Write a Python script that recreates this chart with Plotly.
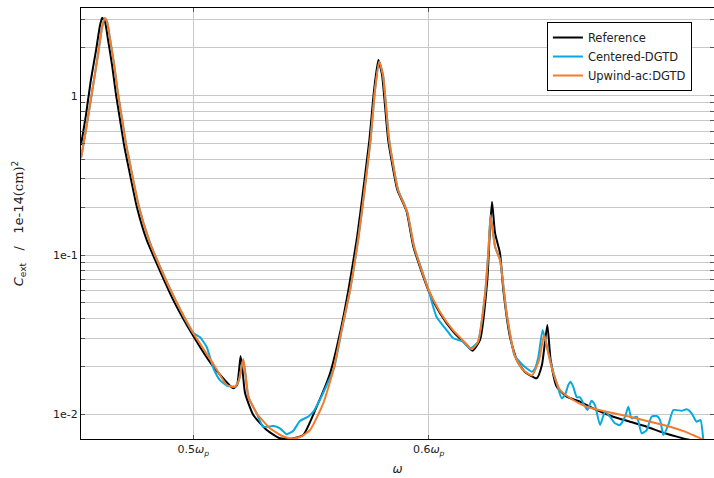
import plotly.graph_objects as go

# ---------------- data ----------------
ref_x = [0.4523, 0.4544, 0.4565, 0.4587, 0.4604, 0.4613, 0.4625, 0.4638, 0.4655, 0.4672,
         0.4689, 0.4706, 0.4723, 0.4760, 0.4802, 0.4829, 0.4915, 0.5000, 0.5085, 0.5170,
         0.5186, 0.5201, 0.5211, 0.5220, 0.5255, 0.5312, 0.5368, 0.5411, 0.5467, 0.5524,
         0.5581, 0.5626, 0.5659, 0.5694, 0.5711, 0.5748, 0.5768, 0.5786, 0.5802, 0.5828,
         0.5867, 0.5892, 0.5907, 0.5935, 0.5998, 0.6048, 0.6104, 0.6161, 0.6187, 0.6218,
         0.6249, 0.6260, 0.6269, 0.6282, 0.6303, 0.6317, 0.6345, 0.6374, 0.6409, 0.6459,
         0.6481, 0.6504, 0.6518, 0.6544, 0.6586, 0.6643, 0.6714, 0.6784, 0.6855, 0.6926,
         0.6997, 0.7054, 0.7110, 0.7203]
ref_y = [0.490, 0.756, 1.255, 1.936, 2.779, 3.088, 2.902, 2.237, 1.558, 1.010,
         0.704, 0.490, 0.367, 0.201, 0.1242, 0.100, 0.0522, 0.0310, 0.0199, 0.01456,
         0.01527, 0.02323, 0.01765, 0.01354, 0.00990, 0.00797, 0.00707, 0.00700, 0.00741, 0.01116,
         0.01809, 0.0338, 0.0603, 0.1242, 0.1916, 0.527, 1.086, 1.675, 1.349, 0.527,
         0.256, 0.2112, 0.1862, 0.1128, 0.0603, 0.0431, 0.0330, 0.0272, 0.02507, 0.02927,
         0.0697, 0.1435, 0.2161, 0.1369, 0.1025, 0.0603, 0.0307, 0.02193, 0.01843, 0.01683,
         0.0204, 0.03635, 0.02193, 0.0149, 0.01290, 0.0120, 0.01064, 0.00966, 0.00899, 0.00836,
         0.00766, 0.00724, 0.00690, 0.0066]

cen_x = [0.4523, 0.4544, 0.4570, 0.4595, 0.4612, 0.4624, 0.4634, 0.4647, 0.4664, 0.4681,
         0.4698, 0.4715, 0.4732, 0.4769, 0.4812, 0.4837, 0.4924, 0.5000, 0.5028, 0.5057,
         0.5085, 0.5113, 0.5142, 0.5177, 0.5194, 0.5212, 0.5222, 0.5234, 0.5269, 0.5297,
         0.5340, 0.5368, 0.5397, 0.5424, 0.5453, 0.5489, 0.5509, 0.5531, 0.5567, 0.5598,
         0.5630, 0.5666, 0.5700, 0.5717, 0.5753, 0.5772, 0.5790, 0.5806, 0.5832, 0.5870,
         0.5895, 0.5910, 0.5938, 0.5998, 0.6033, 0.6076, 0.6104, 0.6147, 0.6175, 0.6209,
         0.6239, 0.6254, 0.6263, 0.6282, 0.6303, 0.6331, 0.6364, 0.6395, 0.6416, 0.6438,
         0.6452, 0.6466, 0.6484, 0.6498, 0.6523, 0.6544, 0.6565, 0.6579, 0.6593, 0.6603,
         0.6614, 0.6629, 0.6643, 0.6657, 0.6674, 0.6692, 0.6706, 0.6728, 0.6749, 0.6770,
         0.6791, 0.6812, 0.6834, 0.6848, 0.6862, 0.6884, 0.6905, 0.6926, 0.6947, 0.6969,
         0.6983, 0.6997, 0.7018, 0.7039, 0.7075, 0.7096, 0.7117, 0.7138, 0.7155, 0.7166,
         0.7173]
cen_y = [0.4064, 0.609, 1.055, 1.80, 2.661, 3.061, 2.902, 2.237, 1.558, 1.010,
         0.704, 0.490, 0.367, 0.201, 0.1242, 0.100, 0.0522, 0.0324, 0.03056, 0.02645,
         0.01953, 0.0164, 0.01517, 0.0149, 0.0164, 0.02215, 0.01765, 0.0129, 0.01015, 0.00836,
         0.00844, 0.00817, 0.0075, 0.00786, 0.00908, 0.00969, 0.01034, 0.01178, 0.01527, 0.01953,
         0.0333, 0.0603, 0.1242, 0.1916, 0.527, 1.086, 1.635, 1.349, 0.527, 0.256,
         0.2112, 0.184, 0.1128, 0.0612, 0.0410, 0.0338, 0.0300, 0.02855, 0.02596, 0.0284,
         0.0561, 0.1075, 0.1780, 0.1128, 0.0930, 0.0431, 0.02357, 0.0207, 0.01944, 0.01851,
         0.01944, 0.0230, 0.0338, 0.0284, 0.0199, 0.01565, 0.0126, 0.01322, 0.01527, 0.01602,
         0.0149, 0.01279, 0.01279, 0.01172, 0.01064, 0.01217, 0.01144, 0.00857, 0.01038, 0.00966,
         0.00878, 0.00857, 0.00966, 0.01116, 0.00944, 0.00966, 0.0076, 0.00797, 0.00966, 0.00976,
         0.0092, 0.00741, 0.00857, 0.01064, 0.01053, 0.01075, 0.01015, 0.00899, 0.0092, 0.00707,
         0.0060]

upw_x = [0.4523, 0.4544, 0.4570, 0.4595, 0.4612, 0.4624, 0.4634, 0.4647, 0.4664, 0.4681,
         0.4698, 0.4715, 0.4732, 0.4769, 0.4812, 0.4837, 0.4924, 0.5000, 0.5085, 0.5142,
         0.5177, 0.5194, 0.5212, 0.5222, 0.5234, 0.5269, 0.5326, 0.5377, 0.5418, 0.5453,
         0.5496, 0.5552, 0.5595, 0.5630, 0.5666, 0.5700, 0.5717, 0.5753, 0.5772, 0.5790,
         0.5806, 0.5832, 0.5870, 0.5895, 0.5910, 0.5938, 0.5998, 0.6048, 0.6104, 0.6161,
         0.6182, 0.6209, 0.6239, 0.6254, 0.6263, 0.6282, 0.6303, 0.6331, 0.6367, 0.6401,
         0.6439, 0.6469, 0.6490, 0.6505, 0.6523, 0.6558, 0.6614, 0.6671, 0.6756, 0.6855,
         0.6940, 0.7025, 0.7089, 0.7138, 0.7170]
upw_y = [0.4064, 0.609, 1.055, 1.80, 2.661, 3.061, 2.902, 2.237, 1.558, 1.010,
         0.704, 0.490, 0.367, 0.201, 0.1242, 0.100, 0.0522, 0.0324, 0.0207, 0.01527,
         0.0149, 0.0164, 0.02215, 0.01765, 0.0129, 0.01015, 0.00817, 0.00731, 0.00705, 0.0072,
         0.00797, 0.01172, 0.01897, 0.0338, 0.0603, 0.1242, 0.1916, 0.527, 1.086, 1.635,
         1.349, 0.527, 0.256, 0.209, 0.184, 0.1128, 0.0612, 0.0439, 0.0336, 0.0276,
         0.0256, 0.0284, 0.0561, 0.1075, 0.1739, 0.1128, 0.0930, 0.0431, 0.0230, 0.01897,
         0.01752, 0.02193, 0.03147, 0.02533, 0.01944, 0.01421, 0.01230, 0.01116, 0.01038, 0.00966,
         0.00899, 0.00836, 0.00778, 0.00724, 0.0069]

x_tick_vals = [0.5, 0.6]
x_tick_text = ["0.5<i>ω</i><sub><i>p</i></sub>", "0.6<i>ω</i><sub><i>p</i></sub>"]
y_tick_vals = [0.01, 0.1, 1]
y_tick_text = ["1e-2", "1e-1", "1"]
y_minor_vals = [0.02, 0.03, 0.04, 0.05, 0.06, 0.07, 0.08, 0.09,
                0.2, 0.3, 0.4, 0.5, 0.6, 0.7, 0.8, 0.9, 2, 3]

series_names = ["Reference", "Centered-DGTD", "Upwind-ac:DGTD"]
series_colors = ["#000000", "#0AA8E0", "#F47A2C"]

# ---------------- figure ----------------
FONT = "DejaVu Sans"
GRID = "#c8c8c8"
fig = go.Figure()
for name, color, xs, ys in zip(series_names, series_colors,
                               [ref_x, cen_x, upw_x], [ref_y, cen_y, upw_y]):
    fig.add_trace(go.Scatter(x=xs, y=ys, mode="lines", name=name,
                             line=dict(color=color, width=2, shape="spline", smoothing=0.5)))

fig.update_layout(
    width=714, height=478,
    margin=dict(l=81, r=0, t=8, b=39),
    paper_bgcolor="white", plot_bgcolor="white",
    font=dict(family=FONT, size=11, color="#222222"),
    showlegend=True,
    legend=dict(x=0.736, y=0.9675, xanchor="left", yanchor="top",
                bgcolor="white", bordercolor="black", borderwidth=1,
                font=dict(family=FONT, size=11.5, color="#222222"),
                tracegroupgap=0, itemwidth=30),
)
fig.update_xaxes(
    range=[0.4523, 0.7212], tickvals=x_tick_vals, ticktext=x_tick_text,
    showgrid=True, gridcolor=GRID, gridwidth=1, zeroline=False,
    showline=True, linecolor="black", linewidth=1, mirror="allticks",
    ticks="inside", ticklen=4, tickcolor="#555555",
    title=dict(text="<i>ω</i>", standoff=8, font=dict(size=12)),
    automargin=False,
)
fig.update_yaxes(
    type="log", range=[-2.155, 0.5505], tickvals=y_tick_vals, ticktext=y_tick_text,
    showgrid=True, gridcolor=GRID, gridwidth=1, zeroline=False,
    showline=True, linecolor="black", linewidth=1, mirror="allticks",
    ticks="inside", ticklen=4, tickcolor="#555555",
    minor=dict(tickmode="array", tickvals=y_minor_vals, showgrid=True,
               gridcolor=GRID, gridwidth=1, ticks="inside", ticklen=4, tickcolor="#555555"),
    title=dict(text="<i>C</i><sub>ext</sub>   /   1e-14<span style='font-family:DejaVu Serif'>(cm)</span><sup>2</sup>",
               standoff=26, font=dict(size=13)),
    automargin=False,
)

fig.write_html("out.html", config={"displayModeBar": False},
               post_script="document.body.style.margin='0';")
